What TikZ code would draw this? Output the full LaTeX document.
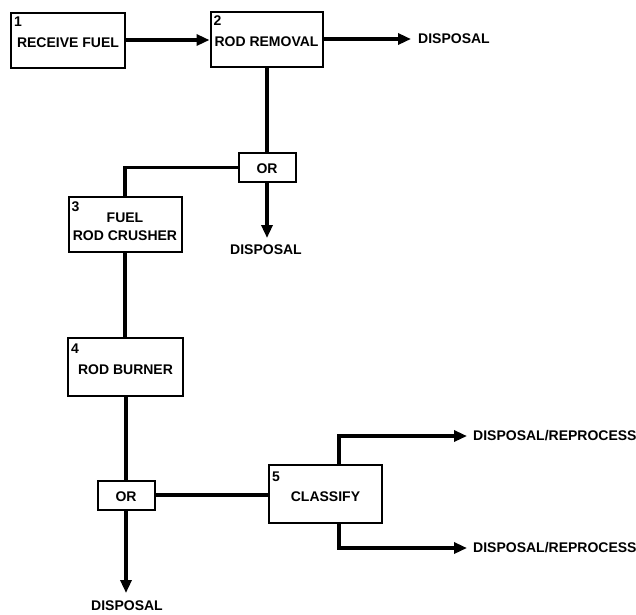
\documentclass[tikz,border=0pt]{standalone}
\usepackage{fontspec}
\setmainfont{Liberation Sans}
\usetikzlibrary{arrows.meta,positioning}
\tikzset{
  txt/.style={font=\fontsize{14}{18}\selectfont\bfseries},
  box/.style={draw, line width=2pt, minimum width=#1, inner sep=0pt, txt, align=center, text height=14pt, text depth=0pt},
  orbox/.style={draw, line width=2pt, minimum width=57pt, minimum height=29pt, inner sep=0pt, txt, text height=12pt, text depth=0pt},
  num/.style={inner sep=0pt, txt, anchor=north west},
  outtext/.style={inner sep=0pt, txt},
  conn/.style={line width=3.2pt},
  arr/.style={line width=3.2pt, -{Triangle[length=13pt,width=11pt]}}
}
\begin{document}
\begin{tikzpicture}[x=1pt,y=-1pt]
\useasboundingbox (0,0) rectangle (636,614);
% boxes
\node[box=114pt, minimum height=55pt] (b1) at (68,40.5) {RECEIVE FUEL};
\node[num] (n1) at ([xshift=4pt,yshift=-5pt]b1.north west) {1};
\node[box=112pt, minimum height=55pt] (b2) at (266.5,39.5) {ROD REMOVAL};
\node[num] (n2) at ([xshift=4pt,yshift=-5pt]b2.north west) {2};
\node[orbox] (or1) at (267,167.5) {OR};
\node[draw, line width=2pt, minimum width=113pt, minimum height=55pt, inner sep=0pt, txt, align=center] (b3) at (125,224.5) {\\[-3pt]FUEL\\ROD CRUSHER};
\node[num] (n3) at ([xshift=4pt,yshift=-6pt]b3.north west) {3};
\node[box=115pt, minimum height=58pt] (b4) at (125.5,367) {ROD BURNER};
\node[num] (n4) at ([xshift=4pt,yshift=-7pt]b4.north west) {4};
\node[orbox] (or2) at (126,495) {OR};
\node[box=113pt, minimum height=58pt] (b5) at (325.5,494) {CLASSIFY};
\node[num] (n5) at ([xshift=4pt,yshift=-8pt]b5.north west) {5};
% outputs
\node[outtext, anchor=west] (d1) at (418,39) {DISPOSAL};
\node[outtext, anchor=north] (d2) at (266,245) {DISPOSAL};
\node[outtext, anchor=north] (d3) at (127,601) {DISPOSAL};
\node[outtext, anchor=west] (r1) at (473,436) {DISPOSAL/REPROCESS};
\node[outtext, anchor=west] (r2) at (473,548) {DISPOSAL/REPROCESS};
% connectors
\draw[arr] (b1.east |- 0,40) -- (b2.west |- 0,40);
\draw[arr] (b2.east |- d1.west) -- ([xshift=-7pt]d1.west);
\draw[conn] (b2.south -| or1.north) -- (or1.north);
\draw[conn] (or1.west) -| (b3.north);
\draw[arr] (or1.south) -- ([yshift=7pt]d2.north -| or1.south);
\draw[conn] (b3.south) -- (b4.north -| b3.south);
\draw[conn] (b4.south -| or2.north) -- (or2.north);
\draw[arr] (or2.south) -- ([yshift=8pt]d3.north -| or2.south);
\draw[conn] (or2.east) -- (b5.west |- or2.east);
\draw[arr] ([xshift=13.5pt]b5.north) |- ([xshift=-6pt]r1.west);
\draw[arr] ([xshift=13.5pt]b5.south) |- ([xshift=-6pt]r2.west);
\end{tikzpicture}
\end{document}
